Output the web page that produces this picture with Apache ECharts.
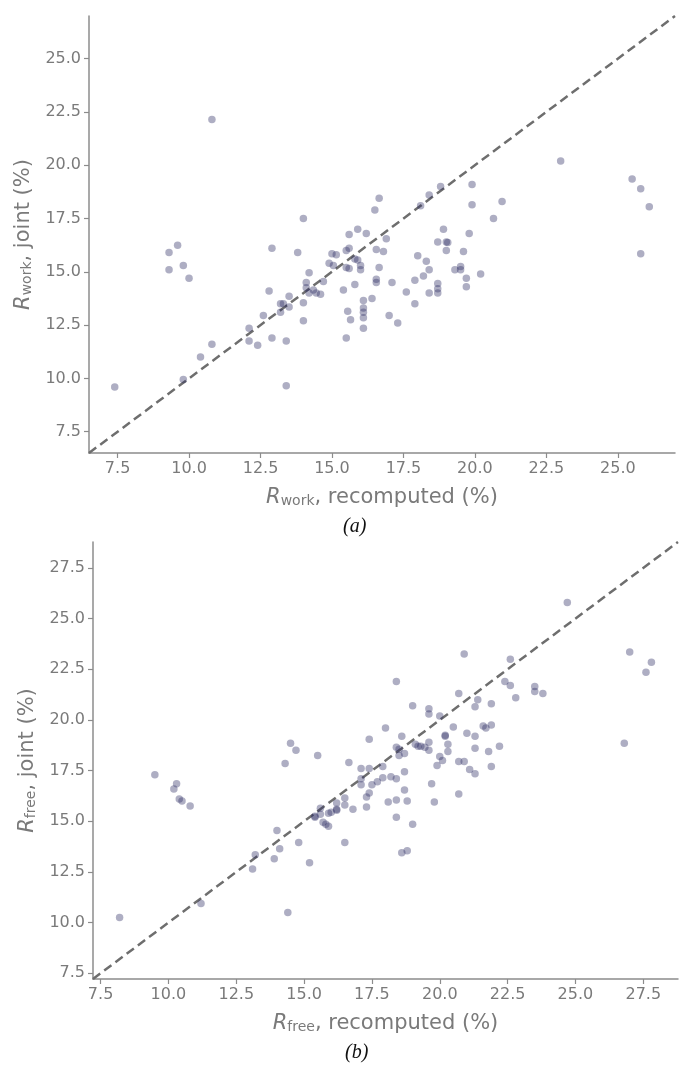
<!DOCTYPE html>
<html>
<head>
<meta charset="utf-8">
<script src="https://cdn.jsdelivr.net/npm/echarts@6/dist/echarts.min.js"></script>
<style>
html,body{margin:0;padding:0;background:#fff;}
#chart{width:684px;height:1067px;}
</style>
</head>
<body>
<div id="chart"></div>
<script>
// Panel (a): R_work recomputed (x) vs R_work joint (y), %
const workRecomputed = [7.4,9.3,9.6,9.3,9.8,10.0,9.8,10.4,10.8,10.8,12.1,12.1,12.4,12.6,12.8,12.9,12.9,13.2,13.3,13.2,13.5,13.5,13.4,13.4,13.8,14.0,14.0,14.0,14.2,14.1,14.1,14.2,14.35,14.45,14.6,14.7,15.0,15.15,14.9,15.05,15.5,15.6,15.4,15.5,15.55,15.65,15.5,15.6,15.6,15.9,16.2,16.5,16.65,15.8,15.9,16.0,16.0,16.55,16.65,16.55,16.55,16.4,15.8,16.1,16.1,16.1,16.1,16.1,16.9,16.8,17.1,17.0,17.3,17.6,17.9,17.9,18.0,18.2,18.3,18.4,18.4,18.1,18.4,18.8,18.9,18.7,19.0,19.05,19.0,18.7,18.7,18.7,19.3,19.5,19.5,19.6,19.8,19.7,19.7,19.9,19.9,20.2,20.65,20.95,23.0,25.5,25.8,26.1,25.8];
const workJoint = [9.6,15.9,16.25,15.1,15.3,14.7,9.95,11.0,11.6,22.15,12.35,11.75,11.55,12.95,14.1,11.9,16.1,13.5,13.5,13.1,13.85,13.35,11.75,9.65,15.9,17.5,13.55,12.7,14.95,14.5,14.25,14.0,14.15,14.0,13.95,14.55,15.85,15.8,15.4,15.3,15.2,15.15,14.15,11.9,13.15,12.75,16.0,16.1,16.75,17.0,16.8,17.9,18.45,15.6,15.55,15.3,15.1,16.05,15.2,14.65,14.5,13.75,14.4,13.65,13.3,13.1,12.85,12.35,16.55,15.95,14.5,12.95,12.6,14.05,14.6,13.5,15.75,14.8,15.5,15.1,14.0,18.1,18.6,19.0,17.0,16.4,16.4,16.38,16.0,14.45,14.2,14.0,15.1,15.25,15.1,15.95,16.8,14.7,14.3,19.1,18.15,14.9,17.5,18.3,20.2,19.35,18.9,18.05,15.85];

// Panel (b): R_free recomputed (x) vs R_free joint (y), %
const freeRecomputed = [8.2,9.5,10.3,10.2,10.4,10.5,10.8,11.2,13.1,13.2,13.9,14.0,14.1,14.3,14.5,14.7,14.4,14.8,15.2,15.4,15.4,15.5,15.6,15.6,15.7,15.8,15.9,15.9,16.0,16.2,16.2,16.2,16.5,16.5,16.5,16.65,16.8,17.1,17.1,17.1,17.3,17.3,17.4,17.4,17.4,17.5,17.7,17.9,17.9,18.0,18.1,18.2,18.4,18.4,18.4,18.5,18.5,18.4,18.4,18.6,18.7,18.7,18.7,18.8,18.6,18.8,19.0,19.0,19.1,19.2,19.3,19.45,19.6,19.6,19.6,19.6,19.7,19.8,19.9,20.0,20.0,20.1,20.2,20.2,20.3,20.3,20.5,20.7,20.7,20.7,20.9,20.9,21.0,21.1,21.3,21.3,21.3,21.3,21.4,21.6,21.7,21.8,21.9,21.9,21.9,22.2,22.4,22.6,22.6,22.8,23.5,23.5,23.8,24.7,26.8,27.0,27.6,27.8];
const freeJoint = [10.25,17.3,16.85,16.6,16.1,16.0,15.75,10.95,12.65,13.35,13.15,14.55,13.65,17.85,18.85,18.5,10.5,13.95,12.95,15.25,15.2,18.25,15.65,15.35,14.95,14.85,14.75,15.4,15.45,15.9,15.55,15.6,16.15,15.8,13.95,17.9,15.6,17.6,17.1,16.8,16.2,15.7,17.6,19.05,16.4,16.8,16.95,17.15,17.7,19.6,15.95,17.2,17.1,21.9,18.65,18.55,18.25,16.05,15.2,19.2,18.35,17.45,16.55,16.0,13.45,13.55,20.7,14.85,18.8,18.7,18.7,18.65,18.9,18.5,20.55,20.3,16.85,15.95,17.75,20.2,18.2,18.0,19.25,19.2,18.8,18.45,19.65,21.3,17.95,16.35,17.95,23.25,19.35,17.55,20.65,19.2,18.6,17.35,21.0,19.7,19.6,18.45,20.8,19.75,17.7,18.7,21.9,21.7,23.0,21.1,21.65,21.4,21.3,25.8,18.85,23.35,22.35,22.85];

const ticksA = [7.5,10.0,12.5,15.0,17.5,20.0,22.5,25.0];
const ticksB = [7.5,10.0,12.5,15.0,17.5,20.0,22.5,25.0,27.5];
const limA = [6.5,27.0];
const limB = [7.22,28.78];

const FONT = 'DejaVu Sans';
const GREY = '#7a7a7a';
const AXISC = '#8c8c8c';

function pairs(xs, ys){ return xs.map((x,i)=>[x, ys[i]]); }

function richName(sub, rest){
  return {
    name: '{i|R}{s|' + sub + '}{n|, ' + rest + '}',
    style: {
      rich: {
        i: {fontStyle:'italic', fontSize:21, fontFamily:FONT, color:GREY, lineHeight:24, verticalAlign:'bottom'},
        s: {fontSize:14, fontFamily:FONT, color:GREY, lineHeight:14, verticalAlign:'bottom'},
        n: {fontSize:21, fontFamily:FONT, color:GREY, lineHeight:24, verticalAlign:'bottom'}
      }
    }
  };
}

function makeX(idx, lim, ticks, sub){
  const nm = richName(sub, 'recomputed (%)');
  return {
    type:'value', gridIndex: idx, min: lim[0], max: lim[1],
    name: nm.name, nameLocation:'middle', nameGap: 31, nameTextStyle: nm.style,
    axisLine:{show:true, lineStyle:{color:AXISC, width:1.5}},
    axisTick:{show:true, length:5, customValues: ticks, lineStyle:{color:AXISC, width:1.2}},
    axisLabel:{customValues: ticks, formatter: v => v.toFixed(1), fontSize:16, fontFamily:FONT, color:GREY, margin:8},
    splitLine:{show:false}
  };
}
function makeY(idx, lim, ticks, sub){
  const nm = richName(sub, 'joint (%)');
  return {
    type:'value', gridIndex: idx, min: lim[0], max: lim[1],
    name: nm.name, nameLocation:'middle', nameGap: 52, nameRotate: 90, nameTextStyle: nm.style,
    axisLine:{show:true, lineStyle:{color:AXISC, width:1.5}},
    axisTick:{show:true, length:5, customValues: ticks, lineStyle:{color:AXISC, width:1.2}},
    axisLabel:{customValues: ticks, formatter: v => v.toFixed(1), fontSize:16, fontFamily:FONT, color:GREY, margin:8},
    splitLine:{show:false}
  };
}

const pointStyle = {color:'rgba(45,45,100,0.48)'};
const dashStyle = {color:'#6e6e6e', width:2.5, type:[9,5]};

const chart = echarts.init(document.getElementById('chart'), null, {renderer:'canvas'});
chart.setOption({
  backgroundColor:'#fff',
  animation:false,
  grid:[
    {left:89, top:16, right:9, height:437},
    {left:93, top:542, right:6, height:437}
  ],
  xAxis:[ makeX(0, limA, ticksA, 'work'), makeX(1, limB, ticksB, 'free') ],
  yAxis:[ makeY(0, limA, ticksA, 'work'), makeY(1, limB, ticksB, 'free') ],
  series:[
    {type:'line', xAxisIndex:0, yAxisIndex:0, data:[[limA[0],limA[0]],[limA[1],limA[1]]], symbol:'none', lineStyle:dashStyle, z:1, silent:true},
    {type:'scatter', xAxisIndex:0, yAxisIndex:0, data:pairs(workRecomputed, workJoint), symbolSize:7.5, itemStyle:pointStyle, z:2},
    {type:'line', xAxisIndex:1, yAxisIndex:1, data:[[limB[0],limB[0]],[limB[1],limB[1]]], symbol:'none', lineStyle:dashStyle, z:1, silent:true},
    {type:'scatter', xAxisIndex:1, yAxisIndex:1, data:pairs(freeRecomputed, freeJoint), symbolSize:7.5, itemStyle:pointStyle, z:2}
  ],
  graphic:[
    {type:'text', left:343, top:517, style:{text:'(a)', font:'italic 20px "Liberation Serif", serif', fill:'#111'}},
    {type:'text', left:345, top:1043, style:{text:'(b)', font:'italic 20px "Liberation Serif", serif', fill:'#111'}}
  ]
});
</script>
</body>
</html>
